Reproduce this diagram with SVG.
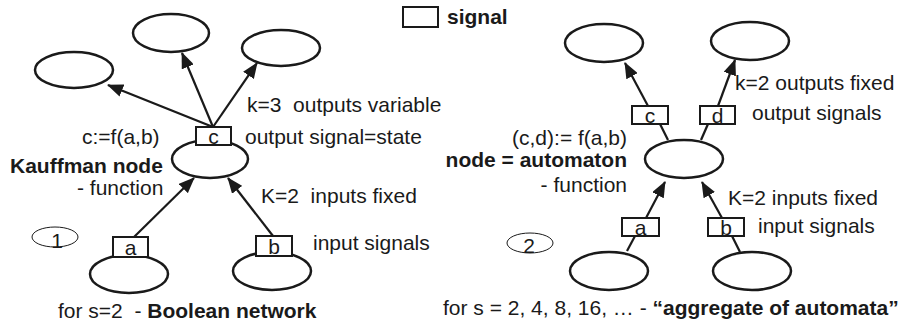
<svg xmlns="http://www.w3.org/2000/svg" width="915" height="329" viewBox="0 0 915 329">
<style>
text{font-family:"Liberation Sans",Arial,sans-serif;font-size:21px;fill:#1a1a1a;white-space:pre}
.b{font-weight:bold}
.n{fill:none;stroke:#1a1a1a;stroke-width:2.5}
.s{fill:#fff;stroke:#1a1a1a;stroke-width:2}
.c{fill:none;stroke:#1a1a1a;stroke-width:1}
.e{fill:none;stroke:#1a1a1a;stroke-width:2.2}
</style>
<defs>
<marker id="ah" markerUnits="userSpaceOnUse" markerWidth="16" markerHeight="13" refX="15" refY="6.5" orient="auto">
<path d="M0,0 L16,6.5 L0,13 Z" fill="#1a1a1a"/>
</marker>
</defs>
<rect width="915" height="329" fill="#fff"/>
<g id="connectors">
<line class="e" x1="213" y1="127" x2="108" y2="85" marker-end="url(#ah)"/>
<line class="e" x1="213" y1="127" x2="182" y2="53" marker-end="url(#ah)"/>
<line class="e" x1="213" y1="127" x2="257" y2="63" marker-end="url(#ah)"/>
<line class="e" x1="134" y1="237" x2="194" y2="178" marker-end="url(#ah)"/>
<line class="e" x1="273" y1="236" x2="228" y2="178" marker-end="url(#ah)"/>
<line class="e" x1="668" y1="140" x2="660" y2="124"/>
<line class="e" x1="648" y1="106" x2="625" y2="63" marker-end="url(#ah)"/>
<line class="e" x1="701" y1="140" x2="708" y2="124"/>
<line class="e" x1="718" y1="106" x2="735" y2="60" marker-end="url(#ah)"/>
<line class="e" x1="627" y1="251" x2="635" y2="236"/>
<line class="e" x1="646" y1="218" x2="665" y2="182" marker-end="url(#ah)"/>
<line class="e" x1="740" y1="252" x2="732" y2="236"/>
<line class="e" x1="722" y1="218" x2="702" y2="182" marker-end="url(#ah)"/>
</g>
<g id="legend">
<rect class="s" x="403" y="7" width="35" height="20"/>
<text class="b" x="447" y="24">signal</text>
</g>
<g id="n1-out1"><ellipse class="n" cx="74" cy="70" rx="39" ry="18"/></g>
<g id="n1-out2"><ellipse class="n" cx="171" cy="33" rx="38" ry="19"/></g>
<g id="n1-out3"><ellipse class="n" cx="281" cy="48" rx="39" ry="18"/></g>
<g id="n1-center"><ellipse class="n" cx="210" cy="159" rx="38" ry="19"/></g>
<g id="n1-in-a"><ellipse class="n" cx="129" cy="274" rx="39" ry="19"/></g>
<g id="n1-in-b"><ellipse class="n" cx="272" cy="271" rx="39" ry="19"/></g>
<g id="n1-sig-c"><rect class="s" x="196" y="127" width="35" height="18"/><text x="213.5" y="144" text-anchor="middle">c</text></g>
<g id="n1-sig-a"><rect class="s" x="113" y="237" width="35" height="20"/><text x="130.5" y="255" text-anchor="middle">a</text></g>
<g id="n1-sig-b"><rect class="s" x="256" y="236" width="36" height="20"/><text x="274" y="254" text-anchor="middle">b</text></g>
<g id="label1"><ellipse class="c" cx="55" cy="237" rx="23" ry="10"/><text x="57" y="248" text-anchor="middle" font-size="25">1</text></g>
<g id="texts1">
<text x="247" y="112">k=3  outputs variable</text>
<text x="245" y="144">output signal=state</text>
<text x="82" y="144">c:=f(a,b)</text>
<text class="b" x="10" y="173">Kauffman node</text>
<text x="77" y="195">- function</text>
<text x="261" y="203">K=2  inputs fixed</text>
<text x="313" y="250">input signals</text>
<text x="58" y="318">for s=2  - <tspan class="b">Boolean network</tspan></text>
</g>
<g id="n2-out1"><ellipse class="n" cx="604" cy="43" rx="39" ry="19"/></g>
<g id="n2-out2"><ellipse class="n" cx="750" cy="41" rx="39" ry="19"/></g>
<g id="n2-center"><ellipse class="n" cx="684" cy="159" rx="39" ry="19"/></g>
<g id="n2-in-a"><ellipse class="n" cx="609" cy="271" rx="39" ry="19"/></g>
<g id="n2-in-b"><ellipse class="n" cx="752" cy="271" rx="39" ry="19"/></g>
<g id="n2-sig-c"><rect class="s" x="632" y="106" width="36" height="18"/><text x="650" y="123" text-anchor="middle">c</text></g>
<g id="n2-sig-d"><rect class="s" x="700" y="106" width="35" height="18"/><text x="717.5" y="123" text-anchor="middle">d</text></g>
<g id="n2-sig-a"><rect class="s" x="622" y="218" width="37" height="18"/><text x="640.5" y="235" text-anchor="middle">a</text></g>
<g id="n2-sig-b"><rect class="s" x="708" y="218" width="36" height="18"/><text x="726" y="235" text-anchor="middle">b</text></g>
<g id="label2"><ellipse class="c" cx="530" cy="243" rx="23" ry="10"/><text x="529" y="253" text-anchor="middle" font-size="25">2</text></g>
<g id="texts2">
<text x="735" y="90">k=2 outputs fixed</text>
<text x="752" y="120">output signals</text>
<text x="627" y="145" text-anchor="end">(c,d):= f(a,b)</text>
<text class="b" x="627" y="167" text-anchor="end">node = automaton</text>
<text x="627" y="192" text-anchor="end">- function</text>
<text x="728" y="205">K=2 inputs fixed</text>
<text x="758" y="233">input signals</text>
<text x="443" y="315">for s = 2, 4, 8, 16, … - <tspan class="b">“aggregate of automata”</tspan></text>
</g>
</svg>
